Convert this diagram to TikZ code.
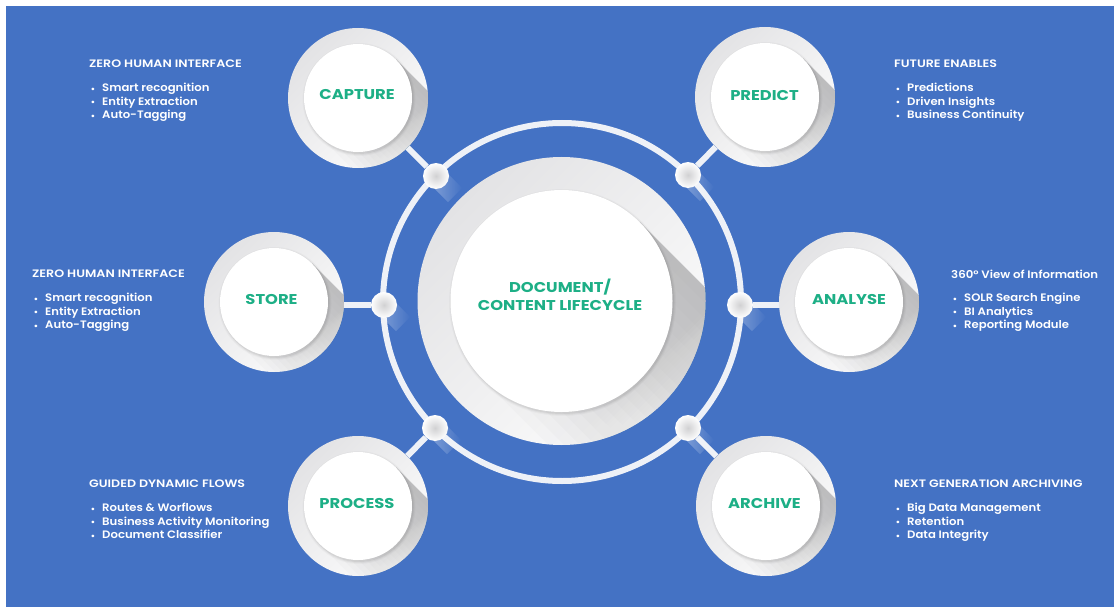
\documentclass[tikz,border=0pt]{standalone}
\usepackage{fontspec}
\setmainfont{Poppins}
\newfontfamily\labelfont[FakeStretch=1.15]{Poppins}
\newfontfamily\headfont[FakeStretch=1.17]{Poppins SemiBold}
\newfontfamily\mixedfont[FakeStretch=1.09]{Poppins SemiBold}
\newfontfamily\listfont[FakeStretch=1.08]{Poppins SemiBold}
\usetikzlibrary{fadings}
\pgfdeclarelayer{back}
\pgfdeclarelayer{links}
\pgfsetlayers{back,links,main}
\definecolor{pageblue}{HTML}{4472C4}
\definecolor{lifegreen}{HTML}{1DAF86}
\definecolor{linkwhite}{HTML}{EEF1F7}
\definecolor{discgrey}{HTML}{E3E3E5}
\definecolor{shadowgrey}{HTML}{A8A8AA}
\tikzset{
  x=1pt,y=-1pt,
  basedisc/.style={circle,inner sep=0pt,draw=none,shading=axis,top color=discgrey,bottom color=white!88!discgrey,shading angle=45},
  topdisc/.style={circle,inner sep=0pt,fill=white,draw=none},
  disclabel/.style={inner sep=0pt,align=center,text=lifegreen,font=\fontsize{14.2}{18}\labelfont\bfseries},
  linkline/.style={draw=linkwhite,line width=6pt},
  ringline/.style={circle,inner sep=0pt,draw=linkwhite,line width=6pt,minimum size=358pt},
  jointdisc/.style={circle,inner sep=0pt,minimum size=26pt,shading=radial,inner color=discgrey!92!black,outer color=white!96!discgrey},
  headtext/.style={anchor=west,inner sep=0pt,text=white,font=\fontsize{10.8}{13}\headfont},
  itemtext/.style={anchor=north west,inner sep=0pt,text=white,align=left,font=\fontsize{10.8}{13.5}\listfont},
}
\newcommand{\bul}{\makebox[13pt][l]{\hspace{1.5pt}\raisebox{-0.6pt}{\scalebox{0.85}{•}}}}
% name, x, y, diameter of the base, diameter of the top, text, label x, label y
\newcommand{\lifedisc}[8]{%
  \node[basedisc,minimum size=#4pt] (#1base) at (#2,#3) {};
  \begin{scope}
    \clip (#2,#3) circle ({#4/2*1pt});
    \begin{scope}[shift={(#2,#3)},rotate=-45]
      \foreach \i in {0,...,19}{
        \fill[shadowgrey,opacity=0.05] (0pt,{(-#5/2+\i*#5/20)*1pt}) rectangle ({#4*0.78pt},{#5/2*1pt});
      }
      \foreach \j in {0,...,9}{
        \fill[white,opacity=0.04] ({(#5/2+\j*(#4-#5)/20)*1pt},{-#5/2*1pt}) rectangle ({#4*0.78pt},{#5/2*1pt});
      }
    \end{scope}
  \end{scope}
  \foreach \gr/\op in {2.5/0.025,1.5/0.035,0.5/0.05}{
    \fill[black,opacity=\op] (#2+1,#3+1.5) circle ({#5/2*1pt+\gr*1pt});
  }
  \node[topdisc,minimum size=#5pt] (#1) at (#2,#3) {};
  \node[disclabel] (#1label) at (#7,#8) {#6};
}
\newcommand{\lifejoint}[3]{%
  \begin{scope}[shift={(#2,#3)},rotate=-45]
    \fill[white,opacity=0.35,path fading=jointfade] (0pt,-10pt) rectangle (27pt,10pt);
  \end{scope}
  \node[jointdisc] (#1) at (#2,#3) {};
}
\begin{tikzfading}[name=jointfade,left color=transparent!0,right color=transparent!100]
\end{tikzfading}
\begin{document}
\begin{tikzpicture}
\useasboundingbox (0,0) rectangle (1114,607);
\begin{pgfonlayer}{back}
  \fill[white] (0,0) rectangle (1114,607);
  \fill[pageblue] (6,6) rectangle (1114,607);
\end{pgfonlayer}

\node[ringline] (ring) at (562,302) {};
\lifejoint{jcapture}{436}{176}
\lifejoint{jpredict}{688}{175}
\lifejoint{jstore}{384}{305}
\lifejoint{janalyse}{740}{305}
\lifejoint{jprocess}{435}{428}
\lifejoint{jarchive}{688}{428}

\lifedisc{hub}{561.5}{301}{288}{222}{DOCUMENT/\\CONTENT LIFECYCLE}{560}{295}
\lifedisc{capture}{358}{98}{140}{108}{CAPTURE}{357}{95}
\lifedisc{predict}{765}{97}{140}{108}{PREDICT}{764.5}{95}
\lifedisc{store}{274}{302}{140}{108}{STORE}{271.5}{299}
\lifedisc{analyse}{849}{302}{140}{108}{ANALYSE}{849}{299}
\lifedisc{process}{358}{506}{140}{108}{PROCESS}{357}{503}
\lifedisc{archive}{766}{506}{140}{108}{ARCHIVE}{764.5}{503}

\begin{pgfonlayer}{links}
  \draw[linkline] (capturebase) -- (jcapture);
  \draw[linkline] (predictbase) -- (jpredict);
  \draw[linkline] (storebase.center |- jstore) -- (jstore);
  \draw[linkline] (analysebase.center |- janalyse) -- (janalyse);
  \draw[linkline] (processbase) -- (jprocess);
  \draw[linkline] (archivebase) -- (jarchive);
\end{pgfonlayer}

\node[headtext] (h1) at (89,64) {ZERO HUMAN INTERFACE};
\node[itemtext] (i1) at (89,83) {\bul Smart recognition\\\bul Entity Extraction\\\bul Auto-Tagging};
\node[headtext] (h2) at (32,274) {ZERO HUMAN INTERFACE};
\node[itemtext] (i2) at (32,293) {\bul Smart recognition\\\bul Entity Extraction\\\bul Auto-Tagging};
\node[headtext] (h3) at (89,484) {GUIDED DYNAMIC FLOWS};
\node[itemtext] (i3) at (89,503) {\bul Routes \& Worflows\\\bul Business Activity Monitoring\\\bul Document Classifier};
\node[headtext] (h4) at (894,64) {FUTURE ENABLES};
\node[itemtext] (i4) at (894,83) {\bul Predictions\\\bul Driven Insights\\\bul Business Continuity};
\node[headtext,font=\fontsize{10.8}{13}\mixedfont] (h5) at (951,274) {360° View of Information};
\node[itemtext] (i5) at (951,293) {\bul SOLR Search Engine\\\bul BI Analytics\\\bul Reporting Module};
\node[headtext] (h6) at (894,484) {NEXT GENERATION ARCHIVING};
\node[itemtext] (i6) at (894,503) {\bul Big Data Management\\\bul Retention\\\bul Data Integrity};
\end{tikzpicture}
\end{document}
